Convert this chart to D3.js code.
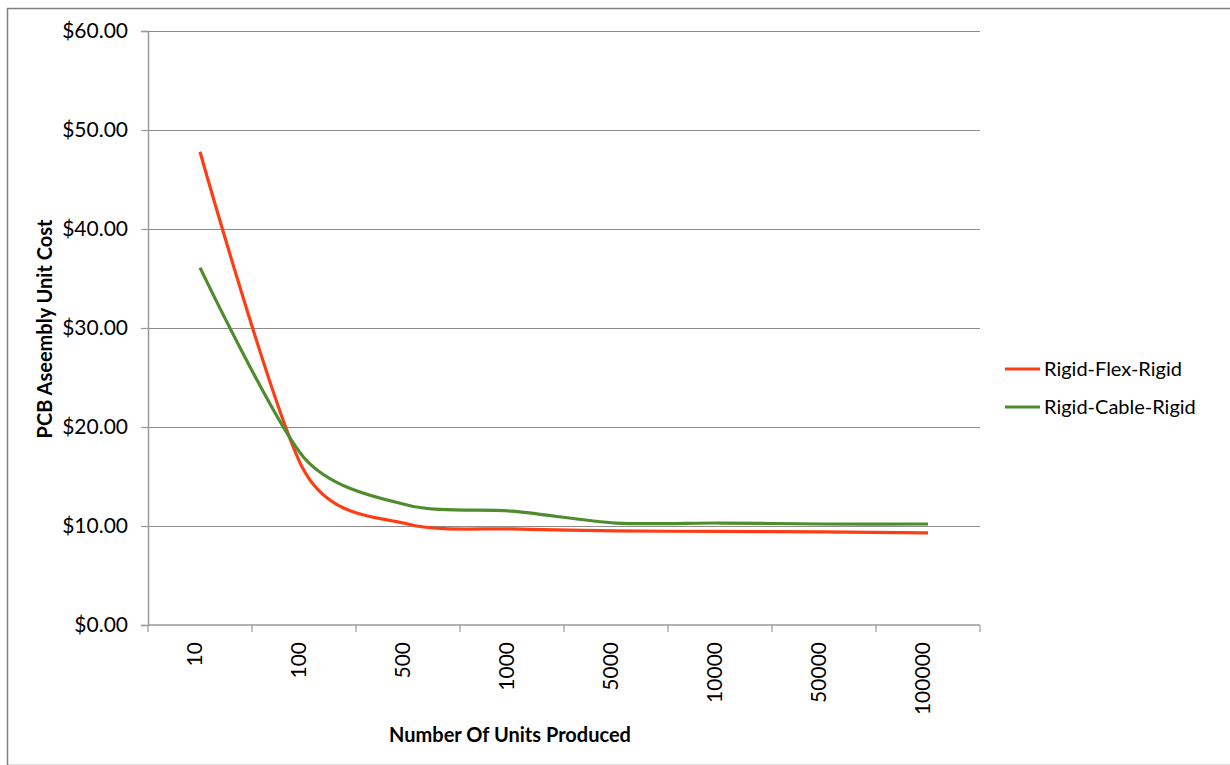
<!DOCTYPE html>
<html lang="en">
<head>
<meta charset="UTF-8">
<title>PCB Assembly Unit Cost</title>
<script src="https://d3js.org/d3.v7.min.js"></script>
<style>
    body { margin: 0; background: #fff; font-family: 'Lato', 'Open Sans', sans-serif; }
    text { fill: #000; }
</style>
</head>
<body>
<div id="chart"></div>
<script>
// chart data
const quantities = ['10', '100', '500', '1000', '5000', '10000', '50000', '100000'];
const rigidFlexRigid = [47.8, 15.6, 10.2, 9.7, 9.5, 9.45, 9.4, 9.3];
const rigidCableRigid = [36.1, 16.9, 12.1, 11.5, 10.3, 10.3, 10.2, 10.2];
const seriesNames = ['Rigid-Flex-Rigid', 'Rigid-Cable-Rigid'];
const yTicks = [0, 10, 20, 30, 40, 50, 60];

const width = 1230, height = 765;
const margin = { top: 31, right: 250, bottom: 140, left: 148 };

const svg = d3.select('#chart').append('svg')
    .attr('width', width)
    .attr('height', height);

// outer frame
svg.append('rect')
    .attr('x', 7.5).attr('y', 8.5)
    .attr('width', width + 20).attr('height', height - 8)
    .attr('fill', 'none')
    .attr('stroke', '#7f7f7f')
    .attr('stroke-width', 1.5);

const x = d3.scaleBand()
    .domain(quantities)
    .range([margin.left, width - margin.right]);

const y = d3.scaleLinear()
    .domain([0, 60])
    .range([height - margin.bottom, margin.top]);

// gridlines
svg.append('g')
    .selectAll('line')
    .data(yTicks.filter(d => d > 0))
    .enter()
    .append('line')
    .attr('x1', margin.left)
    .attr('x2', x.range()[1])
    .attr('y1', d => Math.round(y(d)) + 0.5)
    .attr('y2', d => Math.round(y(d)) + 0.5)
    .attr('stroke', '#8c8c8c')
    .attr('stroke-width', 1.2);

// y axis
const yAxis = svg.append('g')
    .attr('transform', `translate(${margin.left},0)`)
    .call(d3.axisLeft(y).tickValues(yTicks).tickSize(7).tickPadding(13)
        .tickFormat(d => '$' + d.toFixed(2)));
yAxis.select('.domain').attr('stroke', '#9a9a9a').attr('stroke-width', 1.5);
yAxis.selectAll('.tick line').attr('stroke', '#9a9a9a').attr('stroke-width', 1.2);
yAxis.selectAll('text').style('font-size', '21px').attr('font-family', 'Lato').attr('fill', '#111');

// x axis, ticks on band boundaries
const xAxisG = svg.append('g')
    .attr('transform', `translate(0,${y(0)})`);
xAxisG.append('line')
    .attr('x1', margin.left).attr('x2', x.range()[1])
    .attr('stroke', '#9a9a9a').attr('stroke-width', 1.5);
xAxisG.selectAll('.tk')
    .data(quantities.concat(['end']))
    .enter()
    .append('line')
    .attr('x1', (d, i) => i < quantities.length ? x(d) : x.range()[1])
    .attr('x2', (d, i) => i < quantities.length ? x(d) : x.range()[1])
    .attr('y1', 0).attr('y2', 7)
    .attr('stroke', '#9a9a9a').attr('stroke-width', 1.2);
xAxisG.selectAll('.lbl')
    .data(quantities)
    .enter()
    .append('text')
    .attr('transform', d => `translate(${x(d) + x.bandwidth() / 2 + 2},17) rotate(-90)`)
    .attr('text-anchor', 'end')
    .style('font-size', '21px')
    .attr('fill', '#111')
    .text(d => d);

// axis titles
svg.append('text')
    .attr('x', 510)
    .attr('y', 742)
    .attr('text-anchor', 'middle')
    .style('font-size', '20px')
    .style('font-weight', 'bold')
    .text('Number Of Units Produced');

svg.append('text')
    .attr('transform', 'translate(52,329) rotate(-90)')
    .attr('text-anchor', 'middle')
    .style('font-size', '20px')
    .style('font-weight', 'bold')
    .text('PCB Aseembly Unit Cost');

// lines
const colors = ['#ff3d14', '#4f8c2e'];
const line = d3.line()
    .x((d, i) => x(quantities[i]) + x.bandwidth() / 2)
    .y(d => y(d))
    .curve(d3.curveCardinal.tension(0.2));

[rigidFlexRigid, rigidCableRigid].forEach((s, i) => {
    svg.append('path')
        .datum(s)
        .attr('fill', 'none')
        .attr('stroke', colors[i])
        .attr('stroke-width', 3.2)
        .attr('stroke-linejoin', 'round')
        .attr('d', line);
});

// legend
const legend = svg.selectAll('.legend')
    .data(seriesNames)
    .enter()
    .append('g')
    .attr('class', 'legend')
    .attr('transform', (d, i) => `translate(1005,${369 + i * 38})`);

legend.append('line')
    .attr('x1', 0).attr('x2', 35)
    .attr('stroke', (d, i) => colors[i])
    .attr('stroke-width', 3);

legend.append('text')
    .attr('x', 39)
    .attr('dy', '.35em')
    .style('font-size', '20px')
    .text(d => d);
</script>
</body>
</html>
